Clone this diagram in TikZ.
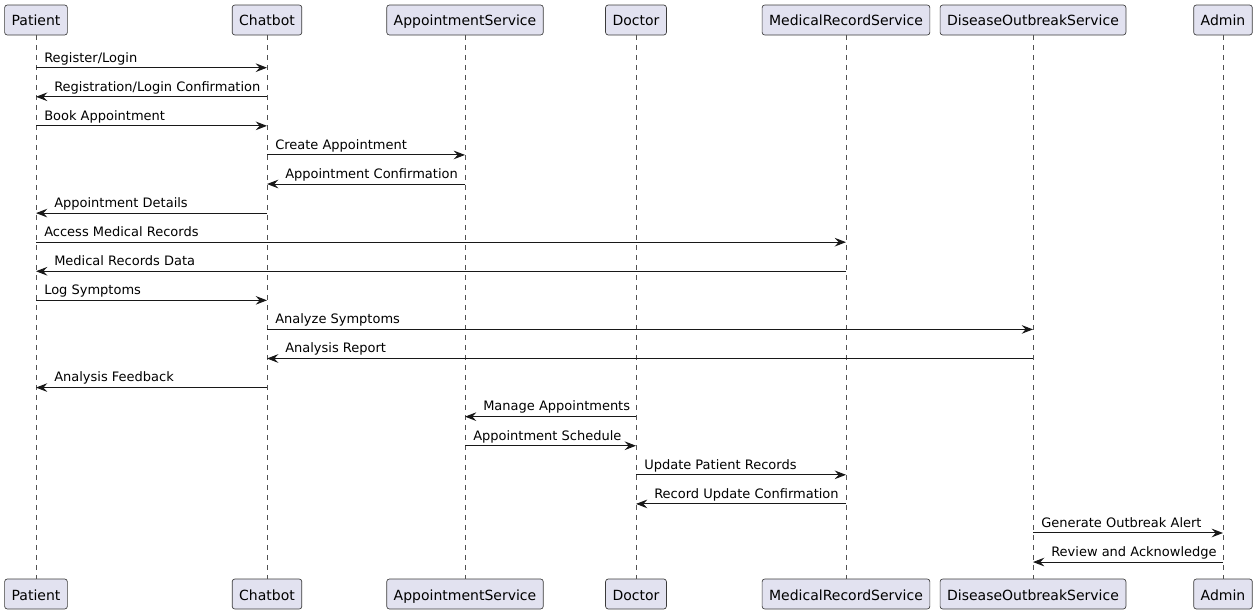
\documentclass[tikz,border=0pt]{standalone}
\usepackage{fontspec}
\setmainfont{DejaVu Sans}
\usetikzlibrary{arrows.meta,positioning,calc}
\definecolor{partfill}{HTML}{E2E2F0}
\definecolor{umlline}{HTML}{181818}
\tikzstyle{participant}=[rectangle,draw=umlline!85,fill=partfill,line width=0.5pt,rounded corners=2pt,minimum height=22.5pt,inner xsep=5.25pt,inner ysep=0pt,text height=9.5pt,text depth=0.5pt,font=\fontsize{10.5pt}{12pt}\selectfont]
\tikzstyle{lifeline}=[draw=umlline!75,line width=0.5pt,dash pattern=on 3.75pt off 3.75pt]
\tikzstyle{msg}=[draw=umlline,line width=0.75pt,-{Stealth[length=8.5pt,width=6.5pt,inset=3pt]}]
\tikzstyle{msglabel}=[inner sep=0pt,anchor=base west,font=\fontsize{9.75pt}{11pt}\selectfont]

\begin{document}
\begin{tikzpicture}[x=0.75pt,y=-0.75pt]
  \useasboundingbox (0,0) rectangle (1258,614);

  \def\ytop{20};
  \def\ybot{594};

  % participants, top and bottom
  \foreach \x/\name/\label in {36/pat/Patient, 267/bot/Chatbot, 465/appt/AppointmentService, 636/doc/Doctor, 846/mrs/MedicalRecordService, 1033/dos/DiseaseOutbreakService, 1223/adm/Admin}
  {
     \node[participant] (\name-top) at (\x, \ytop) {\label};
     \node[participant] (\name-bot) at (\x, \ybot) {\label};
     \path[lifeline] (\name-top) -- (\name-bot);
  }

  % messages left to right
  \foreach \i/\source/\dest/\label in {1/pat/bot/Register\slash Login, 3/pat/bot/Book Appointment, 4/bot/appt/Create Appointment, 7/pat/mrs/Access Medical Records, 9/pat/bot/Log Symptoms, 10/bot/dos/Analyze Symptoms, 14/appt/doc/Appointment Schedule, 15/doc/mrs/Update Patient Records, 17/dos/adm/Generate Outbreak Alert}
  {
     \pgfmathsetmacro\y{67.7+29.08*(\i-1)}
     \path[msg] (\source-top |- 0,\y) -- (\dest-top |- 0,\y);
     \node[msglabel] (l\i) at ($(\source-top |- 0,\y)+(8,-5.7)$) {\label};
  }

  % messages right to left
  \foreach \i/\source/\dest/\label in {2/bot/pat/Registration\slash Login Confirmation, 5/appt/bot/Appointment Confirmation, 6/bot/pat/Appointment Details, 8/mrs/pat/Medical Records Data, 11/dos/bot/Analysis Report, 12/bot/pat/Analysis Feedback, 13/doc/appt/Manage Appointments, 16/mrs/doc/Record Update Confirmation, 18/adm/dos/Review and Acknowledge}
  {
     \pgfmathsetmacro\y{67.7+29.08*(\i-1)}
     \path[msg] (\source-top |- 0,\y) -- (\dest-top |- 0,\y);
     \node[msglabel] (l\i) at ($(\dest-top |- 0,\y)+(18,-5.7)$) {\label};
  }

\end{tikzpicture}
\end{document}
